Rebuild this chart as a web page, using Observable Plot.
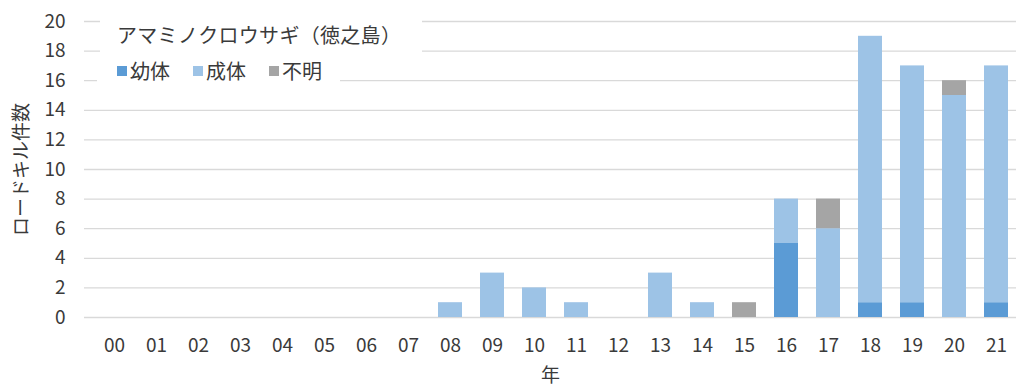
<!DOCTYPE html>
<html lang="ja">
<head>
<meta charset="utf-8">
<script src="https://cdn.jsdelivr.net/npm/d3@7"></script>
<script src="https://cdn.jsdelivr.net/npm/@observablehq/plot@0.6"></script>
<style>
  html, body { margin: 0; padding: 0; background: #fff; }
  #wrap { position: relative; width: 1016px; height: 385px; font-family: "Noto Sans CJK JP", "Noto Sans", sans-serif; color: #3a3a3a; }
  #wrap svg { position: absolute; left: 0; top: 0; }
  .box { position: absolute; background: #fff; white-space: nowrap; }
  #title { left: 100px; top: 16px; width: 322px; height: 38px; font-size: 20px; line-height: 38px; padding-left: 17px; box-sizing: border-box; letter-spacing: 0.3px; }
  #legend { left: 97px; top: 56px; width: 243px; height: 30px; font-size: 20px; line-height: 28px; padding-left: 20px; box-sizing: border-box; display: flex; align-items: center; }
  .item { display: inline-flex; align-items: center; margin-right: 23px; }
  .sw { display: inline-block; width: 10px; height: 10px; margin-right: 3px; }
</style>
</head>
<body>
<div id="wrap">
  <div id="chart"></div>
  <div class="box" id="title"></div>
  <div class="box" id="legend"></div>
</div>
<script>
// Roadkill counts of the Amami rabbit on Tokunoshima, by year (2000–2021)
const years = ["00","01","02","03","04","05","06","07","08","09","10","11","12","13","14","15","16","17","18","19","20","21"];
const juvenile = [0,0,0,0,0,0,0,0,0,0,0,0,0,0,0,0,5,0,1,1,0,1];
const adult    = [0,0,0,0,0,0,0,0,1,3,2,1,0,3,1,0,3,6,18,16,15,16];
const unknown  = [0,0,0,0,0,0,0,0,0,0,0,0,0,0,0,1,0,2,0,0,1,0];
const stages = ["幼体", "成体", "不明"];
const colors = ["#5b9bd5", "#9dc3e6", "#a5a5a5"];
const yTicks = [0,2,4,6,8,10,12,14,16,18,20];
const chartTitle = "アマミノクロウサギ（徳之島）";

// long table: one row per year and stage, stacked juvenile → adult → unknown
const rows = [];
years.forEach((y, i) => {
  [juvenile, adult, unknown].forEach((series, k) => {
    rows.push({year: y, stage: stages[k], count: series[i]});
  });
});

const chart = Plot.plot({
  width: 1016,
  height: 385,
  marginLeft: 84,
  marginRight: 0,
  marginTop: 21,
  marginBottom: 68,
  style: {fontFamily: '"Noto Sans CJK JP", "Noto Sans", sans-serif', fontSize: "19px", color: "#3a3a3a", background: "transparent"},
  x: {type: "band", domain: years, range: [86, 1023], paddingInner: 0.44, paddingOuter: 0.22},
  y: {domain: [0, 20]},
  color: {domain: stages, range: colors},
  marks: [
    Plot.gridY(yTicks, {stroke: "#d9d9d9", strokeOpacity: 1, strokeWidth: 1.3}),
    Plot.barY(rows, Plot.stackY({x: "year", y: "count", fill: "stage", order: stages})),
    Plot.axisY(yTicks, {tickSize: 0, tickPadding: 19, label: "ロードキル件数", labelArrow: "none", labelAnchor: "center", labelOffset: 70, fontSize: 19}),
    Plot.axisX({tickSize: 0, tickPadding: 21, label: "年", labelArrow: "none", labelAnchor: "center", labelOffset: 64, fontSize: 19})
  ]
});
document.getElementById("chart").appendChild(chart);

document.getElementById("title").textContent = chartTitle;
const legend = document.getElementById("legend");
stages.forEach((s, k) => {
  const item = document.createElement("span");
  item.className = "item";
  const sw = document.createElement("span");
  sw.className = "sw";
  sw.style.background = colors[k];
  item.appendChild(sw);
  item.appendChild(document.createTextNode(s));
  legend.appendChild(item);
});
</script>
</body>
</html>
